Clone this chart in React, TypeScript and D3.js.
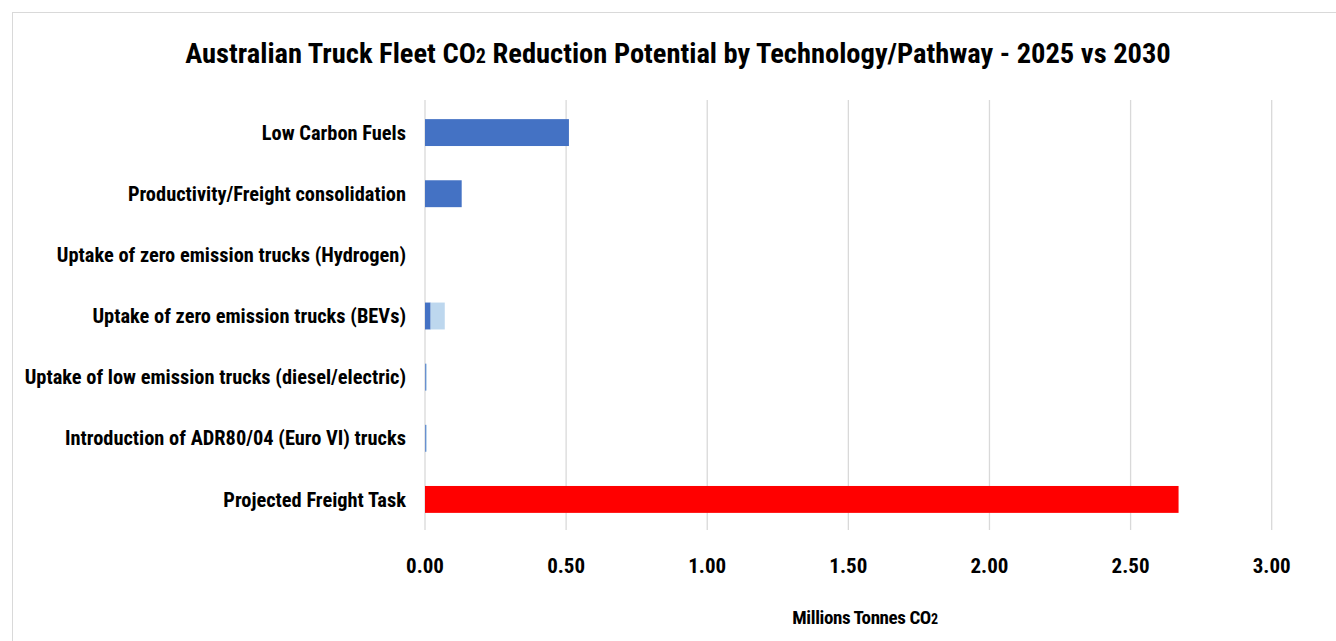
import React, { useEffect, useRef } from "react";
import * as d3 from "d3";

const categories = [
  "Low Carbon Fuels",
  "Productivity/Freight consolidation",
  "Uptake of zero emission trucks (Hydrogen)",
  "Uptake of zero emission trucks (BEVs) ",
  "Uptake of low emission trucks (diesel/electric)",
  "Introduction of ADR80/04 (Euro VI) trucks",
  "Projected Freight Task",
];
// 2025 reduction (dark) and additional by 2030 (light)
const values2025 = [0.51, 0.13, 0, 0.02, 0.003, 0.003, 0];
const values2030 = [0, 0, 0, 0.05, 0.004, 0.004, 0];
const freightTask = [0, 0, 0, 0, 0, 0, 2.67];
const xTicks = [0, 0.5, 1, 1.5, 2, 2.5, 3];

const W = 1336;
const H = 641;
const FONT = "'Liberation Sans Narrow', 'Roboto Condensed', 'Liberation Sans', Arial, sans-serif";

const App = () => {
  const ref = useRef<SVGSVGElement | null>(null);

  useEffect(() => {
    const svg = d3.select(ref.current);
    svg.selectAll("*").remove();

    const margin = { top: 102, left: 425, right: 64, bottom: 111 };
    const x = d3.scaleLinear().domain([0, 3]).range([margin.left, W - margin.right - 0.3]);
    const y = d3
      .scaleBand()
      .domain(categories)
      .range([margin.top, H - margin.bottom])
      .paddingInner(0.56)
      .paddingOuter(0.28);

    // chart frame
    svg
      .append("rect")
      .attr("x", 12.5)
      .attr("y", 12.5)
      .attr("width", W)
      .attr("height", H)
      .attr("fill", "white")
      .attr("stroke", "#d9d9d9");

    // gridlines
    svg
      .append("g")
      .selectAll("line")
      .data(xTicks)
      .join("line")
      .attr("x1", (d) => x(d))
      .attr("x2", (d) => x(d))
      .attr("y1", margin.top - 2)
      .attr("y2", H - margin.bottom)
      .attr("stroke", "#d9d9d9")
      .attr("stroke-width", 1.3);

    // bars
    const rows = categories.map((c, i) => ({
      c,
      a: values2025[i],
      b: values2030[i],
      f: freightTask[i],
    }));
    const g = svg.append("g");
    g.selectAll(".b25")
      .data(rows.filter((r) => r.a > 0))
      .join("rect")
      .attr("x", x(0))
      .attr("y", (d) => y(d.c)!)
      .attr("width", (d) => x(d.a) - x(0))
      .attr("height", y.bandwidth())
      .attr("fill", "#4472C4");
    g.selectAll(".b30")
      .data(rows.filter((r) => r.b > 0))
      .join("rect")
      .attr("x", (d) => x(d.a))
      .attr("y", (d) => y(d.c)!)
      .attr("width", (d) => x(d.a + d.b) - x(d.a))
      .attr("height", y.bandwidth())
      .attr("fill", "#BDD7EE");
    g.selectAll(".bf")
      .data(rows.filter((r) => r.f > 0))
      .join("rect")
      .attr("x", x(0))
      .attr("y", (d) => y(d.c)!)
      .attr("width", (d) => x(d.f) - x(0))
      .attr("height", y.bandwidth())
      .attr("fill", "#FF0000");

    // category labels
    svg
      .append("g")
      .selectAll("text")
      .data(categories)
      .join("text")
      .attr("x", margin.left - 19)
      .attr("y", (d) => y(d)! + y.bandwidth() / 2)
      .attr("dy", "0.35em")
      .attr("text-anchor", "end")
      .attr("font-family", FONT)
      .attr("font-weight", "bold")
      .attr("font-size", 20.4)
      .attr("fill", "#000")
      .text((d) => d);

    // tick labels
    svg
      .append("g")
      .selectAll("text")
      .data(xTicks)
      .join("text")
      .attr("x", (d) => x(d))
      .attr("y", 573)
      .attr("text-anchor", "middle")
      .attr("font-family", FONT)
      .attr("font-weight", "bold")
      .attr("font-size", 21)
      .attr("fill", "#000")
      .text((d) => d3.format(".2f")(d));

    // axis title
    const at = svg
      .append("text")
      .attr("x", 865)
      .attr("y", 624)
      .attr("text-anchor", "middle")
      .attr("font-family", FONT)
      .attr("font-weight", "bold")
      .attr("font-size", 19)
      .attr("letter-spacing", -0.4)
      .attr("fill", "#000");
    at.append("tspan").text("Millions Tonnes CO");
    at.append("tspan").attr("font-size", 14).text("2");

    // title
    const t = svg
      .append("text")
      .attr("x", 678)
      .attr("y", 63)
      .attr("text-anchor", "middle")
      .attr("font-family", FONT)
      .attr("font-weight", "bold")
      .attr("font-size", 28.5)
      .attr("fill", "#000");
    t.append("tspan").text("Australian Truck Fleet CO");
    t.append("tspan").attr("font-size", 20).text("2");
    t.append("tspan").text(" Reduction Potential by Technology/Pathway - 2025 vs 2030");
  }, []);

  return (
    <svg
      ref={ref}
      width={W}
      height={H}
      style={{ position: "absolute", left: 0, top: 0, display: "block", background: "white" }}
    />
  );
};

export default App;
